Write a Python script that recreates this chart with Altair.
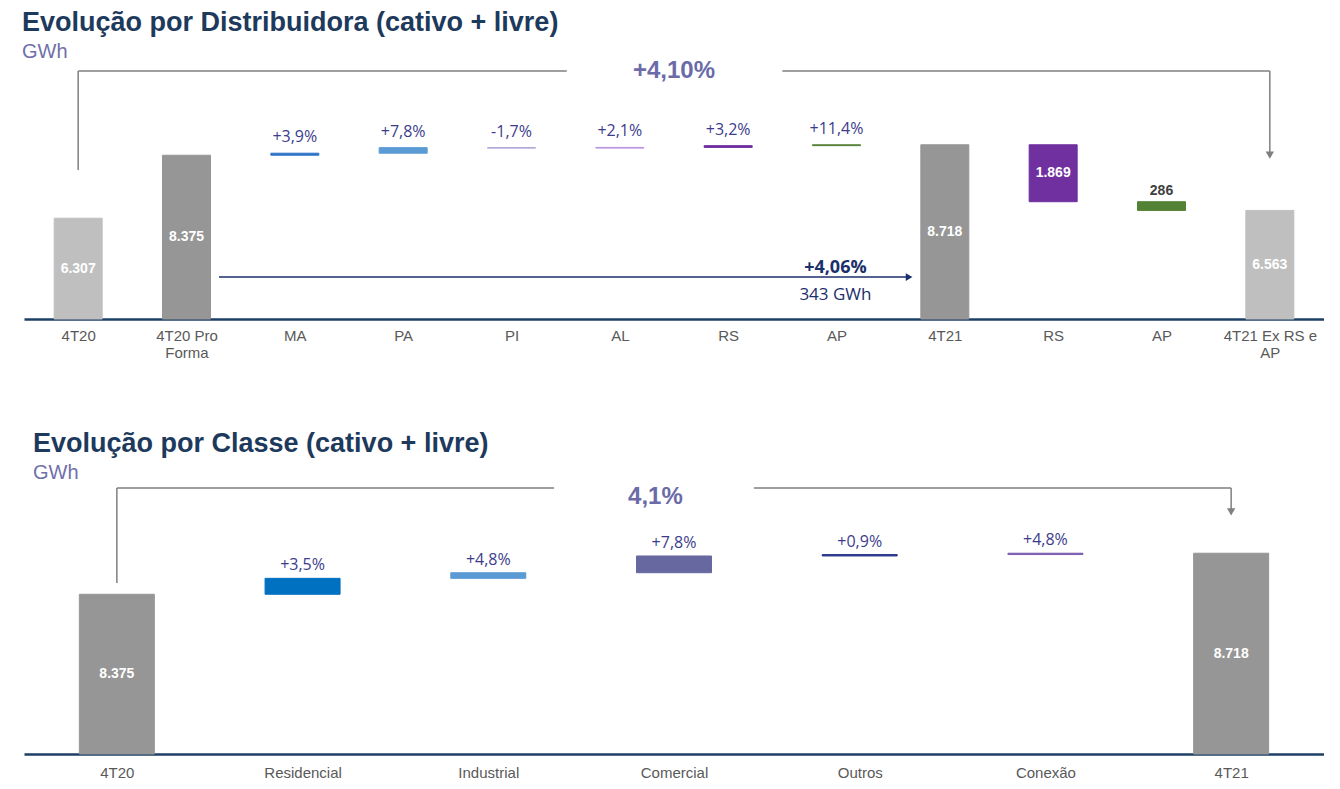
import altair as alt
import pandas as pd
import json

# ---------------- Panel 1: Evolução por Distribuidora ----------------
dist_labels = ["4T20", "4T20 Pro Forma", "MA", "PA", "PI", "AL", "RS", "AP",
               "4T21", "RS", "AP", "4T21 Ex RS e AP"]
dist_kind = ["total", "total", "delta", "delta", "delta", "delta", "delta", "delta",
             "total", "delta", "delta", "total"]
dist_values = [6307, 8375, 66, 183, -16, 23, 58, 29, 8718, -1869, -286, 6563]
dist_pct = ["", "", "+3,9%", "+7,8%", "-1,7%", "+2,1%", "+3,2%", "+11,4%", "", "", "", ""]
dist_colors = ["#bfbfbf", "#969696", "#2e75c6", "#5b9bd5", "#aaa6d8", "#b993e0",
               "#7030a0", "#548235", "#969696", "#7030a0", "#548235", "#bfbfbf"]
dist_ymin, dist_ymax = 3000, 11500
dist_total_pct = "+4,10%"
dist_mid_pct = "+4,06%"
dist_mid_gwh = "343 GWh"

# ---------------- Panel 2: Evolução por Classe ----------------
class_labels = ["4T20", "Residencial", "Industrial", "Comercial", "Outros", "Conexão", "4T21"]
class_kind = ["total", "delta", "delta", "delta", "delta", "delta", "total"]
class_values = [8375, 133, 47, 140, 12, 11, 8718]
class_pct = ["", "+3,5%", "+4,8%", "+7,8%", "+0,9%", "+4,8%", ""]
class_colors = ["#969696", "#0070c0", "#5b9bd5", "#6868a0", "#2e3a8c", "#7b5cb0", "#969696"]
class_ymin, class_ymax = 7040, 9330
class_total_pct = "4,1%"


def fmt_br(v):
    return f"{abs(v):,}".replace(",", ".")


def waterfall(labels, kinds, values, pcts, ymin):
    rows = []
    run = 0
    for i, (lab, kind, v, p) in enumerate(zip(labels, kinds, values, pcts)):
        if kind == "total":
            start, end = ymin, v
            run = v
        else:
            start, end = run, run + v
            run = run + v
        hi, lo = max(start, end), min(start, end)
        tall = (hi - lo) > 1000
        shown = kind == "total" or abs(v) >= 200
        rows.append(dict(idx=i, pos=i + 0.5, start=start, end=end, hi=hi,
                         mid=(start + end) / 2, pct=p,
                         inside=fmt_br(v) if (shown and tall) else "",
                         above=fmt_br(v) if (shown and not tall) else ""))
    return pd.DataFrame(rows)


def wrap_label(s, maxlen=12):
    words, lines, cur = s.split(" "), [], ""
    for w in words:
        cand = (cur + " " + w).strip()
        if len(cand) > maxlen and cur:
            lines.append(cur)
            cur = w
        else:
            cur = cand
    lines.append(cur)
    return lines


NAVY = "#1b2f6b"
BRACKET = "#7f7f7f"
PCTCOL = "#3c3c8c"
BIGPCT = "#6b6ba8"


def panel(labels, kinds, values, pcts, colors, ymin, ymax, height, barw, pct_dy,
          title, title_dx, label_pad, brackets, arrow_heads, texts,
          extra_rules=None, extra_heads=None):
    df = waterfall(labels, kinds, values, pcts, ymin)
    n = len(labels)
    yscale = alt.Scale(domain=[ymin, ymax], nice=False, zero=False)
    label_arr = json.dumps([wrap_label(s) for s in labels], ensure_ascii=False)
    xscale = alt.Scale(domain=[0, n], nice=False, zero=False, padding=0)
    xaxis = alt.Axis(values=[i + 0.5 for i in range(n)],
                     labelExpr=f"{label_arr}[floor(datum.value)]",
                     labelAngle=0, ticks=False, grid=False,
                     domainColor="#1c3f66", domainWidth=2.5,
                     labelFont="Liberation Sans", labelFontSize=15,
                     labelColor="#595959", labelPadding=label_pad, labelLineHeight=17,
                     labelFlush=False, labelOverlap=False, title=None)
    cscale = alt.Scale(domain=list(range(n)), range=colors)
    base = alt.Chart(df)
    bars = base.mark_bar(strokeWidth=1, width=barw).encode(
        x=alt.X("pos:Q", scale=xscale, axis=xaxis),
        y=alt.Y("start:Q", scale=yscale, axis=None),
        y2="end:Q",
        color=alt.Color("idx:O", scale=cscale, legend=None),
        stroke=alt.Stroke("idx:O", scale=cscale, legend=None),
    )
    pct_text = base.transform_filter("datum.pct != ''").mark_text(
        font="Open Sans", fontSize=16, color=PCTCOL, baseline="middle", dy=pct_dy
    ).encode(x="pos:Q", y="hi:Q", text="pct:N")
    inside_text = base.transform_filter("datum.inside != ''").mark_text(
        font="Liberation Sans", fontSize=14, fontWeight="bold", color="white",
        baseline="middle"
    ).encode(x="pos:Q", y="mid:Q", text="inside:N")
    above_text = base.transform_filter("datum.above != ''").mark_text(
        font="Liberation Sans", fontSize=14, fontWeight="bold", color="#404040",
        baseline="bottom", dy=-4
    ).encode(x="pos:Q", y="hi:Q", text="above:N")

    rules_df = pd.DataFrame(brackets, columns=["x", "x2", "y", "y2"])
    rules = alt.Chart(rules_df).mark_rule(color=BRACKET, strokeWidth=1.5).encode(
        x="x:Q", x2="x2:Q", y="y:Q", y2="y2:Q")
    heads_df = pd.DataFrame(arrow_heads, columns=["x", "y"])
    heads = alt.Chart(heads_df).mark_point(shape="triangle-down", filled=True,
                                           color=BRACKET, size=70, opacity=1).encode(
        x="x:Q", y="y:Q")
    layers = [bars, pct_text, inside_text, above_text, rules, heads]
    for (tx, ty, txt, font, fsize, fweight, fcolor) in texts:
        tdf = pd.DataFrame([dict(x=tx, y=ty, t=txt)])
        layers.append(alt.Chart(tdf).mark_text(font=font, fontSize=fsize, fontWeight=fweight,
                                               color=fcolor, baseline="middle").encode(
            x="x:Q", y="y:Q", text="t:N"))
    if extra_rules:
        er = pd.DataFrame(extra_rules, columns=["x", "x2", "y", "y2"])
        layers.append(alt.Chart(er).mark_rule(color=NAVY, strokeWidth=1.5).encode(
            x="x:Q", x2="x2:Q", y="y:Q", y2="y2:Q"))
    if extra_heads:
        eh = pd.DataFrame(extra_heads, columns=["x", "y"])
        layers.append(alt.Chart(eh).mark_point(shape="triangle-right", filled=True,
                                               color=NAVY, size=60, opacity=1).encode(
            x="x:Q", y="y:Q"))
    return alt.layer(*layers).properties(
        width=1300, height=height,
        title=alt.TitleParams(text=title, subtitle="GWh", anchor="start",
                              font="Liberation Sans", fontSize=27, fontWeight="bold",
                              color="#1d3a5c", subtitleFont="Liberation Sans",
                              subtitleFontSize=20, subtitleColor="#7070aa",
                              subtitlePadding=5, offset=-4, dx=title_dx))


top = panel(
    dist_labels, dist_kind, dist_values, dist_pct, dist_colors, dist_ymin, dist_ymax,
    259, 48, -16, "Evolução por Distribuidora (cativo + livre)", -2, 9,
    brackets=[(0.5, 0.5, 7890, 11139), (0.5, 5.01, 11139, 11139),
              (7.0, 11.5, 11139, 11139), (11.5, 11.5, 11139, 8420)],
    arrow_heads=[(11.5, 8380)],
    texts=[(6.0, 11139, dist_total_pct, "Liberation Sans", 24, "bold", BIGPCT),
           (7.49, 4674, dist_mid_pct, "Open Sans", 18, "bold", NAVY),
           (7.49, 3788, dist_mid_gwh, "Open Sans", 17, "normal", NAVY)],
    extra_rules=[(1.8, 8.15, 4378, 4378)],
    extra_heads=[(8.17, 4378)],
)

bottom = panel(
    class_labels, class_kind, class_values, class_pct, class_colors, class_ymin, class_ymax,
    274, 75, -13, "Evolução por Classe (cativo + livre)", 9, 11,
    brackets=[(0.5, 0.5, 8469, 9263), (0.5, 2.854, 9263, 9263),
              (3.93, 6.5, 9263, 9263), (6.5, 6.5, 9263, 9080)],
    arrow_heads=[(6.5, 9063)],
    texts=[(3.4, 9188, class_total_pct, "Liberation Sans", 24, "bold", BIGPCT)],
)

chart = alt.vconcat(top, bottom, spacing=70).resolve_scale(
    color="independent", stroke="independent"
).properties(
    padding={"left": 14, "top": 0, "right": 0, "bottom": 0},
    background="white",
).configure_view(stroke=None)

chart.save("out.html", embed_options={"renderer": "svg", "actions": False})
